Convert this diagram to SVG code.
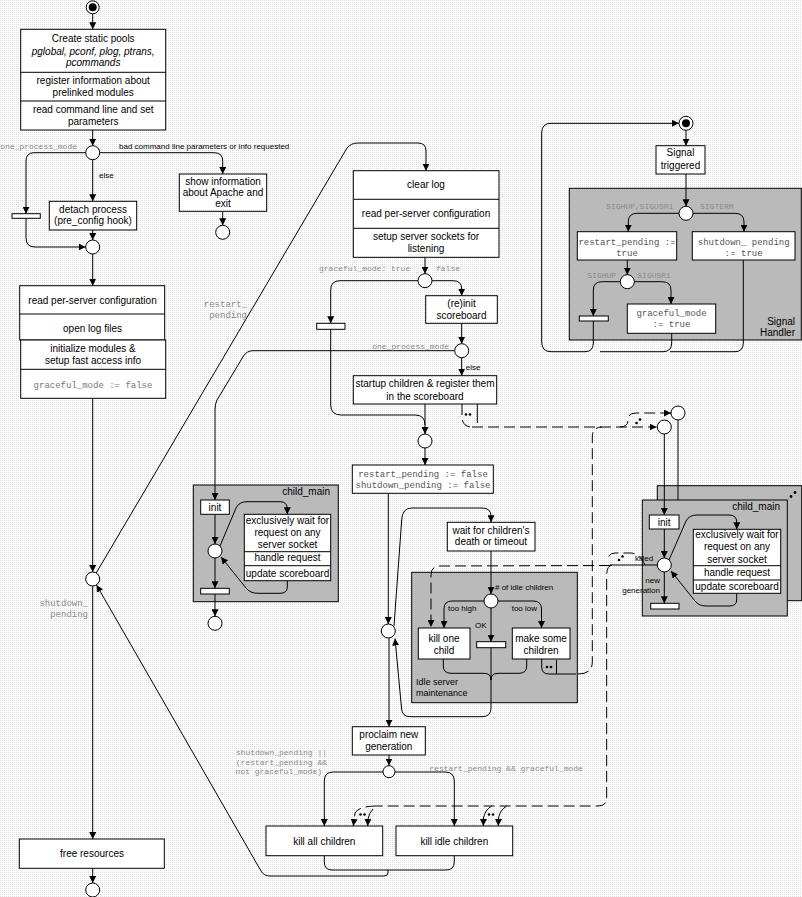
<svg xmlns="http://www.w3.org/2000/svg" width="802" height="897" viewBox="0 0 802 897">
<style>
.box{fill:#fff;stroke:#000;stroke-width:1}
.grey{fill:#bababa;stroke:#000;stroke-width:1}
.bar{fill:#fff;stroke:#000;stroke-width:1}
.circ{fill:#fff;stroke:#000;stroke-width:1}
.ln{fill:none;stroke:#000;stroke-width:1}
.ar{fill:none;stroke:#000;stroke-width:1;marker-end:url(#ah)}
.ds{fill:none;stroke:#000;stroke-width:1;stroke-dasharray:11,5}
.dsa{fill:none;stroke:#000;stroke-width:1;stroke-dasharray:11,5;marker-end:url(#ah)}
.t{font-family:"Liberation Sans",Arial,sans-serif;font-size:10px;fill:#000;text-anchor:middle}
.it{font-style:italic}
.s{font-family:"Liberation Sans",Arial,sans-serif;font-size:8px;fill:#000}
.m{font-family:"Liberation Mono","Courier New",monospace;font-size:9px;fill:#555;text-anchor:middle}
.ml{font-family:"Liberation Mono","Courier New",monospace;font-size:8px;fill:#8a8a8a}
.ml9{font-family:"Liberation Mono","Courier New",monospace;font-size:9px;fill:#8a8a8a;text-anchor:end}
.end{text-anchor:end}
.dot{fill:#000}
</style>
<defs>
<pattern id="bgp" width="2" height="2" patternUnits="userSpaceOnUse"><rect width="2" height="2" fill="#fff"/><rect width="1" height="1" fill="#dedede"/></pattern>
<marker id="ah" viewBox="0 0 10 10" refX="10" refY="5" markerWidth="7" markerHeight="7" markerUnits="userSpaceOnUse" orient="auto"><path d="M0,0 L10,5 L0,10 z" fill="#000"/></marker>
</defs>
<rect width="802" height="897" fill="url(#bgp)"/>

<!-- grey containers -->
<g id="signal_handler"><rect class="grey" x="569.3" y="188.3" width="232" height="151.7"/><text class="t end" x="795" y="325">Signal</text><text class="t end" x="795" y="336">Handler</text></g>
<g id="child_main_left"><rect class="grey" x="193.3" y="485" width="145" height="116.7"/><text class="t end" x="330" y="495">child_main</text></g>
<g id="idle_maint"><rect class="grey" x="411.7" y="572.3" width="165.6" height="130.4"/><text class="t" style="font-size:9px;text-anchor:start" x="416" y="684.9">Idle server</text><text class="t" style="font-size:9px;text-anchor:start" x="416" y="695.5">maintenance</text></g>
<g id="child_main_right"><rect class="grey" x="657.3" y="485.7" width="144.4" height="115"/><circle class="dot" cx="791" cy="496.5" r="1.4"/><circle class="dot" cx="795" cy="492.5" r="1.4"/><rect class="grey" x="642.3" y="500" width="145" height="116"/><text class="t end" x="780" y="510">child_main</text></g>

<g id="connectors">
<path class="ar" d="M92.7,14 L92.7,29.3"/>
<path class="ar" d="M92.7,130 L92.7,145.7"/>
<path class="ar" d="M86,152.7 L34,152.7 Q26,152.7 26,161 L26,213.7"/>
<path class="ar" d="M26,218.3 L26,238 Q26,247 35,247 L85.7,247"/>
<path class="ar" d="M92.7,159.7 L92.7,201.3"/>
<path class="ar" d="M99.7,152.7 L214,152.7 Q222.7,152.7 222.7,161 L222.7,174"/>
<path class="ar" d="M222.7,211.3 L222.7,225.3"/>
<path class="ar" d="M92.7,230 L92.7,240"/>
<path class="ar" d="M92.7,254 L92.7,285.7"/>
<path class="ar" d="M92.7,398.3 L92.7,572"/>
<path class="ar" d="M92.7,586 L92.7,839"/>
<path class="ar" d="M92.7,868.3 L92.7,883"/>
<path class="ar" d="M96.2,573 L347,148 Q351,143 358,143 L418,143 Q426,143 426,151 L426,170.7"/>
<path class="ar" d="M388,870 L388,873 Q388,876 384,876 L270,876 Q264,876 261,871 L96.5,585"/>
<path class="ar" d="M425,257.3 L425,273.7"/>
<path class="ar" d="M418,280.7 L340,280.7 Q330.7,280.7 330.7,290 L330.7,323.3"/>
<path class="ln" d="M330.7,329.3 L330.7,405 Q330.7,415 341,415 L415,415 Q425,415 425,425"/>
<path class="ar" d="M432,280.7 L453,280.7 Q461.7,280.7 461.7,289 L461.7,295.7"/>
<path class="ar" d="M461.7,323.3 L461.7,343.7"/>
<path class="ar" d="M461.7,357.7 L461.7,375.7"/>
<path class="ar" d="M454.7,350.7 L253,350.7 Q247,350.7 243.5,356 L217,400 Q215,403.5 215,410 L215,500"/>
<path class="ar" d="M425,404 L425,434"/>
<path class="ar" d="M425,448 L425,465"/>
<path class="ar" d="M388.3,493.3 L388.3,624"/>
<path class="ar" d="M394,626 L401.7,520 Q402,508 412,508 L482,508 Q491,508 491,516 L491,522.3"/>
<path class="ar" d="M491,551 L491,594"/>
<path class="ar" d="M484,601 L452,601 Q444,601 444,609 L444,628"/>
<path class="ar" d="M498,601 L533,601 Q541.5,601 541.5,609 L541.5,628"/>
<path class="ar" d="M491,608 L491,641.7"/>
<path class="ln" d="M443.3,659 L443.3,666 Q443.3,673.3 451,673.3 L484,673.3 Q491,673.3 491,680"/>
<path class="ln" d="M526.7,659 L526.7,666 Q526.7,673.3 519,673.3 L498,673.3 Q491,673.3 491,680"/>
<path class="ln" d="M491,647.7 L491,683"/>
<path class="ar" d="M491,683 L491,708 Q491,716.7 482,716.7 L410,716.7 Q402,716.7 401.5,708 L395,638.5"/>
<path class="ar" d="M389,638 L389,726.7"/>
<path class="ar" d="M389,755 L389,765.5"/>
<path class="ar" d="M383,772 L333,772 Q324.3,772 324.3,781 L324.3,826"/>
<path class="ar" d="M395,772 L445,772 Q454.3,772 454.3,781 L454.3,826"/>
<path class="ln" d="M324.3,855.7 L324.3,862 Q324.3,870 332,870 L446,870 Q454.3,870 454.3,862 L454.3,855.7"/>
<!-- left child_main internals -->
<path class="ar" d="M215,514.3 L215,544"/>
<path class="ar" d="M215,558 L215,588.3"/>
<path class="ar" d="M215,594 L215,616.3"/>
<path class="ar" d="M220,546 L236,508 Q239,501.7 247,501.7 L280,501.7 Q287.3,501.7 287.3,509 L287.3,514.3"/>
<path class="ar" d="M287.3,580.7 L287.3,587 Q287.3,593.3 280,593.3 L258,593.3 Q250,593.3 246,588 L221,557"/>
<!-- right child_main internals -->
<path class="ar" d="M664.3,434 L664.3,515"/>
<path class="ln" d="M678,420 L678,500"/>
<path class="ar" d="M664.3,529 L664.3,558"/>
<path class="ar" d="M664.3,572 L664.3,603.3"/>
<path class="ar" d="M669,560 L686,521 Q689,515 697,515 L729,515 Q736.7,515 736.7,522 L736.7,529.3"/>
<path class="ar" d="M736.7,593.3 L736.7,600 Q736.7,606 729,606 L706,606 Q699,606 695,601 L671,571"/>
<!-- signal handler -->
<path class="ar" d="M686,130.3 L686,145.7"/>
<path class="ar" d="M686,174 L686,206.3"/>
<path class="ar" d="M679,213.3 L637,213.3 Q628.3,213.3 628.3,222 L628.3,231.7"/>
<path class="ar" d="M693,213.3 L735,213.3 Q744,213.3 744,222 L744,231.7"/>
<path class="ar" d="M627.3,260 L627.3,274.7"/>
<path class="ar" d="M620.3,281.7 L602,281.7 Q593.3,281.7 593.3,290 L593.3,316"/>
<path class="ar" d="M634.3,281.7 L662,281.7 Q671,281.7 671,290 L671,304"/>
<path class="ar" d="M593.3,321 L593.3,343 Q593.3,351.7 585,351.7 L551,351.7 Q541.7,351.7 541.7,342 L541.7,133 Q541.7,123.3 551,123.3 L679,123.3"/>
<path class="ln" d="M671.7,333.3 L671.7,343 Q671.7,351.7 663,351.7 L600,351.7"/>
<path class="ln" d="M743.3,260 L743.3,343 Q743.3,351.7 735,351.7 L670,351.7"/>
<!-- dashed communication -->
<path class="ds" d="M462,404 L462,418 Q463,427 472,427"/>
<path class="dsa" d="M472,427 L656.5,427"/>
<path class="ln" d="M477.3,404 L477.3,423"/>
<circle class="dot" cx="466" cy="414.5" r="1.3"/><circle class="dot" cx="470" cy="414.5" r="1.3"/>
<path class="dsa" d="M620,427 Q628,427 628,420 Q628,413 636,413 L671,413"/>
<circle class="dot" cx="636.5" cy="423" r="1.3"/><circle class="dot" cx="640" cy="419.5" r="1.3"/>
<path class="ln" d="M541.7,659 L541.7,667 Q541.7,674 549,674 L576,674"/>
<path class="ln" d="M556.5,660 L556.5,674"/>
<circle class="dot" cx="547" cy="667" r="1.3"/><circle class="dot" cx="551" cy="667" r="1.3"/>
<path class="ds" d="M578,674 Q592.3,674 592.3,662 L592.3,437 Q592.3,427 602,427"/>
<path class="ln" d="M657.3,565 L610,565"/>
<path class="dsa" d="M610,565.5 L440,566 Q431,566 431,575 L431,627"/>
<path class="ds" d="M645,565 Q640,553 630,553 L615,553 Q609,553 607,560"/>
<circle class="dot" cx="619" cy="560" r="1.3"/><circle class="dot" cx="622.5" cy="556.5" r="1.3"/>
<path class="ds" d="M612,565 Q606.7,566 606.7,575 L606.7,798 Q606.7,806 598,806 L376.7,806"/>
<path class="dsa" d="M376.7,806 Q359,806 355,813 L353.3,826"/>
<path class="ar" d="M373,809 Q369,813 368,819 L367.7,826"/>
<circle class="dot" cx="360.5" cy="814.5" r="1.3"/><circle class="dot" cx="364.5" cy="814.5" r="1.3"/>
<path class="ar" d="M491.7,806 Q485,810 483.5,818 L483.3,826"/>
<path class="ar" d="M506.7,806 Q500,810 498.5,818 L498.3,826"/>
<circle class="dot" cx="489" cy="814.5" r="1.3"/><circle class="dot" cx="493" cy="814.5" r="1.3"/>
</g>

<!-- left column -->
<g id="start"><circle class="circ" cx="92.7" cy="7.3" r="6.5"/><circle class="dot" cx="92.7" cy="7.3" r="4"/></g>
<g id="init_box"><rect class="box" x="20.7" y="29.3" width="145" height="100.7"/><line class="ln" x1="20.7" y1="72.3" x2="165.7" y2="72.3"/><line class="ln" x1="20.7" y1="101" x2="165.7" y2="101"/>
<text class="t" x="93.2" y="42">Create static pools</text>
<text class="t it" x="93.2" y="55">pglobal, pconf, plog, ptrans,</text>
<text class="t it" x="93.2" y="66">pcommands</text>
<text class="t" x="93.2" y="84">register information about</text>
<text class="t" x="93.2" y="95.5">prelinked modules</text>
<text class="t" x="93.2" y="112.5">read command line and set</text>
<text class="t" x="93.2" y="124.5">parameters</text></g>
<g id="dec_mode"><circle class="circ" cx="92.7" cy="152.7" r="7"/><text class="ml end" x="77" y="149">one_process_mode</text><text class="s" x="119" y="149">bad command line parameters or info requested</text><text class="s" x="99" y="177.8">else</text></g>
<g id="bar_left"><rect class="bar" x="12" y="213.7" width="28.3" height="4.6"/></g>
<g id="detach"><rect class="box" x="49.3" y="201.3" width="87.4" height="28.7"/><text class="t" x="93" y="212.8">detach process</text><text class="t" x="93" y="224.2">(pre_config hook)</text></g>
<g id="show_info"><rect class="box" x="179.3" y="174" width="87.4" height="37.3"/><text class="t" x="223" y="184.5">show information</text><text class="t" x="223" y="196.2">about Apache and</text><text class="t" x="223" y="206.8">exit</text></g>
<g id="end_info"><circle class="circ" cx="222.7" cy="232.3" r="7"/></g>
<g id="merge1"><circle class="circ" cx="92.7" cy="247" r="7"/></g>
<g id="config_box"><rect class="box" x="19.7" y="285.7" width="145" height="54.3"/><line class="ln" x1="19.7" y1="314" x2="164.7" y2="314"/><rect class="box" x="20.7" y="340" width="145" height="58.3"/><line class="ln" x1="20.7" y1="369.3" x2="165.7" y2="369.3"/>
<text class="t" x="92.5" y="303.5">read per-server configuration</text>
<text class="t" x="92.5" y="331.8">open log files</text>
<text class="t" x="93" y="351.8">initialize modules &amp;</text>
<text class="t" x="93" y="364.2">setup fast access info</text>
<text class="m" style="fill:#777" x="93" y="387.5">graceful_mode := false</text></g>
<g id="dec_shutdown"><circle class="circ" cx="92.7" cy="579" r="7"/><text class="ml9" x="88" y="606">shutdown_</text><text class="ml9" x="88" y="616.5">pending</text><text class="ml9" x="247" y="307">restart_</text><text class="ml9" x="247" y="318.3">pending</text></g>
<g id="free"><rect class="box" x="19.3" y="839" width="145" height="29.3"/><text class="t" x="92" y="856.8">free resources</text></g>
<g id="end_main"><circle class="circ" cx="92.7" cy="890" r="7"/></g>

<!-- middle column -->
<g id="clear_log"><rect class="box" x="353.3" y="170.7" width="145.7" height="86.6"/><line class="ln" x1="353.3" y1="199.3" x2="499" y2="199.3"/><line class="ln" x1="353.3" y1="228.3" x2="499" y2="228.3"/>
<text class="t" x="426" y="187.8">clear log</text>
<text class="t" x="426" y="216.8">read per-server configuration</text>
<text class="t" x="426" y="240.2">setup server sockets for</text>
<text class="t" x="426" y="251.8">listening</text></g>
<g id="dec_graceful"><circle class="circ" cx="425" cy="280.7" r="7"/><text class="ml" x="319" y="271">graceful_mode: true</text><text class="ml" x="436" y="271">false</text></g>
<g id="bar_mid"><rect class="bar" x="316.7" y="323.3" width="28.3" height="6"/></g>
<g id="reinit"><rect class="box" x="425.7" y="295.7" width="71.6" height="27.6"/><text class="t" x="461.5" y="306.8">(re)init</text><text class="t" x="461.5" y="318.5">scoreboard</text></g>
<g id="dec_mode2"><circle class="circ" cx="461.7" cy="350.7" r="7"/><text class="ml end" x="449" y="348.5">one_process_mode</text><text class="s" x="465.7" y="370">else</text></g>
<g id="startup"><rect class="box" x="353.3" y="375.7" width="143.4" height="28.3"/><text class="t" x="425" y="386.8">startup children &amp; register them</text><text class="t" x="425" y="399.5">in the scoreboard</text></g>
<g id="merge2"><circle class="circ" cx="425" cy="441" r="7"/></g>
<g id="reset_flags"><rect class="box" x="352.3" y="465" width="141" height="28.3"/><text class="m" x="423" y="477">restart_pending := false</text><text class="m" x="423" y="487.8">shutdown_pending := false</text></g>
<g id="loop_dec"><circle class="circ" cx="388.3" cy="631" r="7"/></g>
<g id="wait"><rect class="box" x="447.3" y="522.3" width="87.7" height="28.7"/><text class="t" x="491" y="533.5">wait for children's</text><text class="t" x="491" y="545.2">death or timeout</text></g>
<g id="dec_idle"><circle class="circ" cx="491" cy="601" r="7"/><text class="s" x="495" y="589.5"># of idle children</text><text class="s" x="448" y="610.5">too high</text><text class="s" x="511.7" y="610.5">too low</text><text class="s" x="475" y="628">OK</text></g>
<g id="kill_one"><rect class="box" x="418.3" y="628" width="51.7" height="31"/><text class="t" x="444" y="641.8">kill one</text><text class="t" x="444" y="653.5">child</text></g>
<g id="bar_ok"><rect class="bar" x="476.7" y="641.7" width="29" height="6"/></g>
<g id="make_some"><rect class="box" x="512.3" y="628" width="57.7" height="31"/><text class="t" x="541" y="641.8">make some</text><text class="t" x="541" y="653.5">children</text></g>
<g id="proclaim"><rect class="box" x="352.3" y="726.7" width="73" height="28.3"/><text class="t" x="388.8" y="737.8">proclaim new</text><text class="t" x="388.8" y="749.5">generation</text></g>
<g id="dec_kill"><circle class="circ" cx="389" cy="771.7" r="6"/><text class="ml end" x="327" y="754.5">shutdown_pending ||</text><text class="ml end" x="327" y="764.5">(restart_pending &amp;&amp;</text><text class="ml end" x="322" y="774">not graceful_mode)</text><text class="ml" x="429.3" y="771">restart_pending &amp;&amp; graceful_mode</text></g>
<g id="kill_all"><rect class="box" x="266" y="826" width="116.7" height="29.7"/><text class="t" x="324.3" y="845.2">kill all children</text></g>
<g id="kill_idle"><rect class="box" x="396" y="826" width="116.7" height="29.7"/><text class="t" x="454.3" y="845.2">kill idle children</text></g>

<!-- left child_main -->
<g id="lc_init"><rect class="box" x="200.7" y="500" width="28.6" height="14.3"/><text class="t" x="215" y="510.8">init</text></g>
<g id="lc_circ"><circle class="circ" cx="215" cy="551" r="7"/></g>
<g id="lc_work"><rect class="box" x="244.3" y="514.3" width="86.4" height="66.4"/><line class="ln" x1="244.3" y1="551.7" x2="330.7" y2="551.7"/><line class="ln" x1="244.3" y1="565.7" x2="330.7" y2="565.7"/>
<text class="t" x="287.5" y="523.5">exclusively wait for</text><text class="t" x="287.5" y="536.2">request on any</text><text class="t" x="287.5" y="547.8">server socket</text><text class="t" x="287.5" y="561.2">handle request</text><text class="t" x="287.5" y="576.5">update scoreboard</text></g>
<g id="lc_bar"><rect class="bar" x="200.7" y="588.3" width="28.6" height="5.7"/></g>
<g id="lc_end"><circle class="circ" cx="215" cy="623.3" r="7"/></g>

<!-- right child_main -->
<g id="rc_in1"><circle class="circ" cx="664.3" cy="427" r="7"/></g>
<g id="rc_in2"><circle class="circ" cx="678" cy="413" r="7"/></g>
<g id="rc_init"><rect class="box" x="649.3" y="515" width="29.7" height="14"/><text class="t" x="664.2" y="525.5">init</text></g>
<g id="rc_circ"><circle class="circ" cx="664.3" cy="565" r="7"/><text class="s" x="635" y="561">killed</text><text class="s end" style="text-anchor:end" x="660" y="583">new</text><text class="s" style="text-anchor:end" x="660" y="593">generation</text></g>
<g id="rc_work"><rect class="box" x="693.3" y="529.3" width="87.4" height="64"/><line class="ln" x1="693.3" y1="565.7" x2="780.7" y2="565.7"/><line class="ln" x1="693.3" y1="580" x2="780.7" y2="580"/>
<text class="t" x="737" y="538">exclusively wait for</text><text class="t" x="737" y="550.4">request on any</text><text class="t" x="737" y="562.8">server socket</text><text class="t" x="737" y="575.8">handle request</text><text class="t" x="737" y="590.2">update scoreboard</text></g>
<g id="rc_bar"><rect class="bar" x="650.7" y="603.3" width="28.3" height="5.7"/></g>

<!-- signal handler internals -->
<g id="sig_start"><circle class="circ" cx="686" cy="123.3" r="7"/><circle class="dot" cx="686" cy="123.3" r="4"/></g>
<g id="sig_trig"><rect class="box" x="656" y="145.7" width="49" height="28.3"/><text class="t" x="680.5" y="156.2">Signal</text><text class="t" x="680.5" y="168.5">triggered</text></g>
<g id="sig_dec"><circle class="circ" cx="686" cy="213.3" r="7"/><text class="ml end" x="673.3" y="208.5">SIGHUP,SIGUSR1</text><text class="ml" x="700" y="208.5">SIGTERM</text></g>
<g id="sig_restart"><rect class="box" x="577.3" y="231.7" width="99.4" height="28.3"/><text class="m" x="627" y="244.7">restart_pending :=</text><text class="m" x="627" y="255.7">true</text></g>
<g id="sig_shutdown"><rect class="box" x="692.3" y="231.7" width="102.7" height="28.3"/><text class="m" x="743.7" y="244.7">shutdown_ pending</text><text class="m" x="743.7" y="255.7">:= true</text></g>
<g id="sig_dec2"><circle class="circ" cx="627.3" cy="281.7" r="7"/><text class="ml" x="587.3" y="277.8">SIGHUP</text><text class="ml" x="637.3" y="277.8">SIGUSR1</text></g>
<g id="sig_bar"><rect class="bar" x="579.3" y="316" width="29" height="5"/></g>
<g id="sig_graceful"><rect class="box" x="627.3" y="304" width="88.4" height="29.3"/><text class="m" x="671.5" y="316.3">graceful_mode</text><text class="m" x="671.5" y="327.3">:= true</text></g>
</svg>
